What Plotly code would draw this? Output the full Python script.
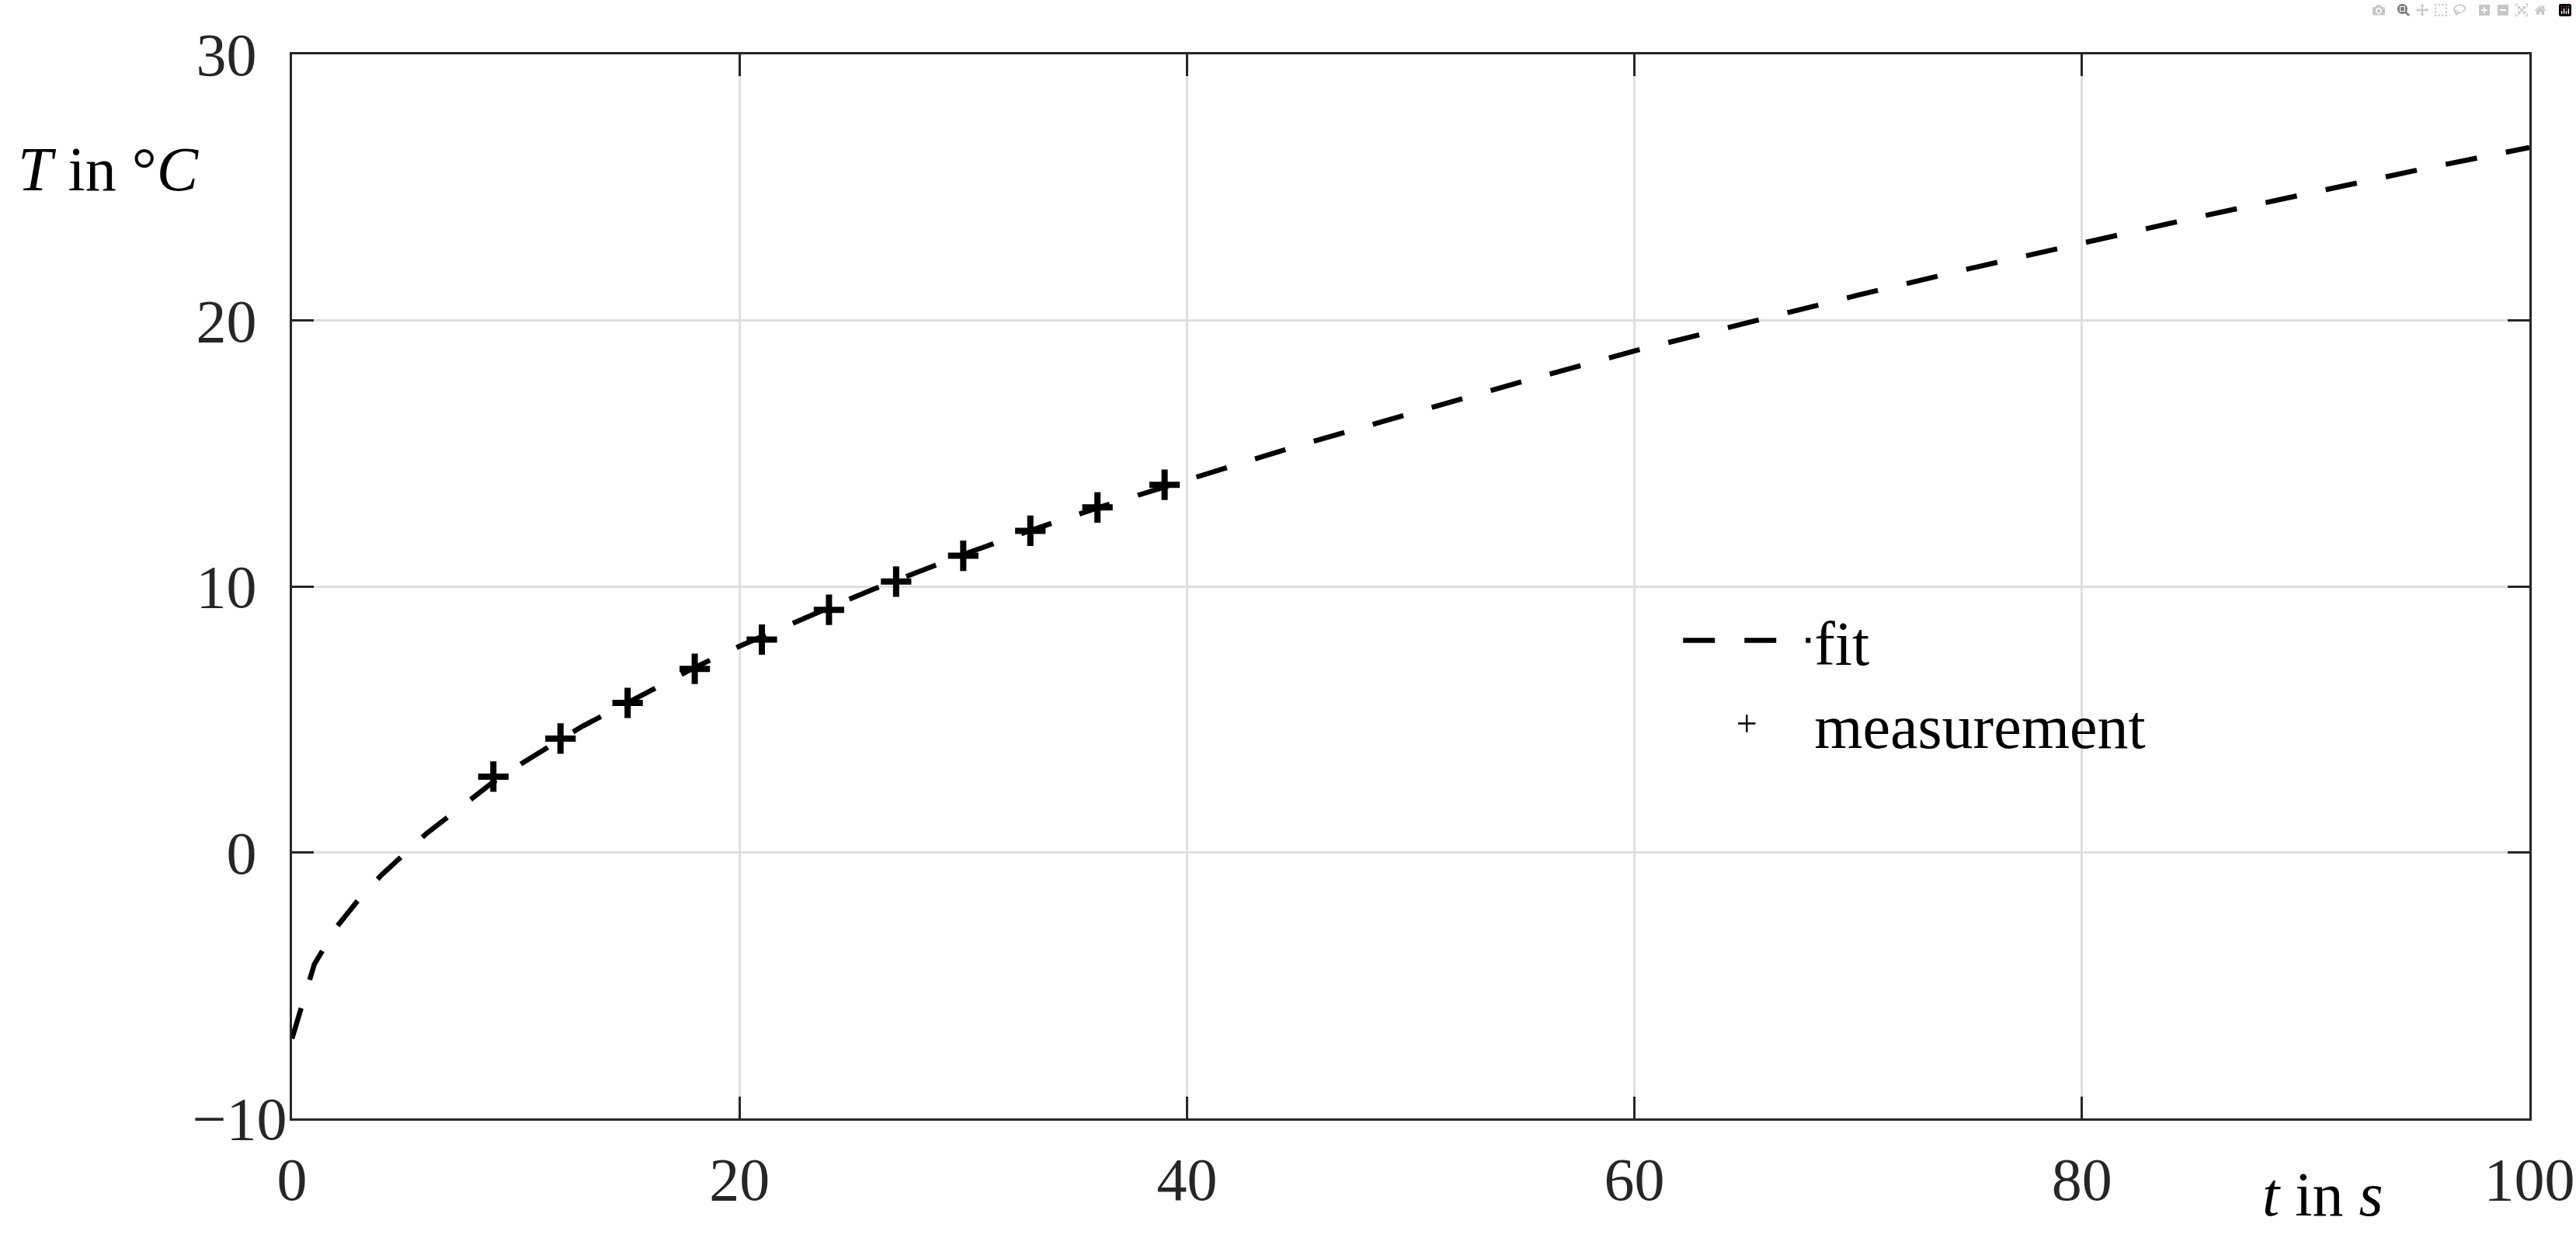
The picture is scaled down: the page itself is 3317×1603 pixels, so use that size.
import plotly.graph_objects as go

# ---- data ----
t_fit = [0, 1, 2, 3, 4, 5, 6, 7, 8, 9, 10, 11, 12, 13, 14, 15, 16, 18, 20, 22, 24, 26, 28,
         30, 33, 36, 40, 45, 50, 55, 60, 65, 70, 75, 80, 85, 90, 95, 100]
T_fit = [-7.0, -4.2, -2.8, -1.75, -0.85, -0.05, 0.7, 1.35, 2.0, 2.65, 3.2, 3.75, 4.25, 4.75,
         5.2, 5.65, 6.1, 6.95, 7.75, 8.5, 9.2, 9.9, 10.55, 11.2, 12.1, 12.95, 14.0, 15.3,
         16.5, 17.7, 18.85, 19.9, 20.95, 21.95, 22.9, 23.85, 24.75, 25.65, 26.5]

t_meas = [9, 12, 15, 18, 21, 24, 27, 30, 33, 36, 39]
T_meas = [2.85, 4.28, 5.62, 6.9, 8.0, 9.12, 10.18, 11.15, 12.09, 12.97, 13.82]

x_ticks = [0, 20, 40, 60, 80, 100]
x_ticktext = ["0", "20", "40", "60", "80", "100"]
y_ticks = [-10, 0, 10, 20, 30]
# labels in the reference are centred in their column -> pad the short ones
y_ticktext = ["\u221210", "0\u2007", "10\u2007", "20\u2007", "30\u2007"]

FONT = "Liberation Serif"
FS = 80
TFS = 78
AX = "#262626"
GRID = "#dfdfdf"

fig = go.Figure()
fig.add_trace(go.Scatter(
    x=t_fit, y=T_fit, mode="lines", name="fit",
    line=dict(color="black", width=6.5, dash="41px,38px"),
))
fig.add_trace(go.Scatter(
    x=t_meas, y=T_meas, mode="markers", name="measurement", showlegend=False,
    marker=dict(symbol="cross-thin", size=28, color="black",
                line=dict(width=8, color="black")),
))
# legend-only entry (thin plus sign as in the reference legend)
fig.add_trace(go.Scatter(
    x=[None], y=[None], mode="markers", name="measurement",
    marker=dict(symbol="cross-thin", size=16, color="black",
                line=dict(width=2.5, color="black")),
))

axis_common = dict(
    showgrid=True, gridcolor=GRID, gridwidth=3,
    showline=True, linecolor=AX, linewidth=3, mirror="ticks",
    ticks="inside", ticklen=28, tickwidth=3, tickcolor=AX,
    tickfont=dict(family=FONT, size=TFS, color=AX),
    zeroline=False, automargin=False,
)

fig.update_xaxes(range=[0, 100], tickvals=x_ticks, ticktext=x_ticktext,
                 ticklabelstandoff=8, ticklabeloverflow="allow", **axis_common)
fig.update_yaxes(range=[-10, 30], tickvals=y_ticks, ticktext=y_ticktext,
                 ticklabelstandoff=-12, **axis_common)

fig.add_annotation(
    text="<i>T</i> in °<i>C</i>", xref="paper", yref="paper",
    x=-0.1232, y=0.892, xanchor="left", yanchor="middle", showarrow=False,
    font=dict(family=FONT, size=FS, color="black"),
)
fig.add_annotation(
    text="<i>t</i> in <i>s</i>", xref="paper", yref="paper",
    x=0.9076, y=-0.0715, xanchor="center", yanchor="middle", showarrow=False,
    font=dict(family=FONT, size=FS, color="black"),
)

fig.update_layout(
    width=3317, height=1603, autosize=False,
    margin=dict(l=376, r=60, t=70, b=163, autoexpand=False),
    paper_bgcolor="white", plot_bgcolor="white",
    font=dict(family=FONT, size=FS, color="black"),
    legend=dict(
        x=0.62, y=0.492, xanchor="left", yanchor="top",
        bgcolor="rgba(0,0,0,0)", borderwidth=0,
        itemwidth=164, tracegroupgap=0,
        font=dict(family=FONT, size=FS, color="black"),
    ),
    showlegend=True,
)

fig.write_html("out.html", post_script="document.body.style.margin='0';")
